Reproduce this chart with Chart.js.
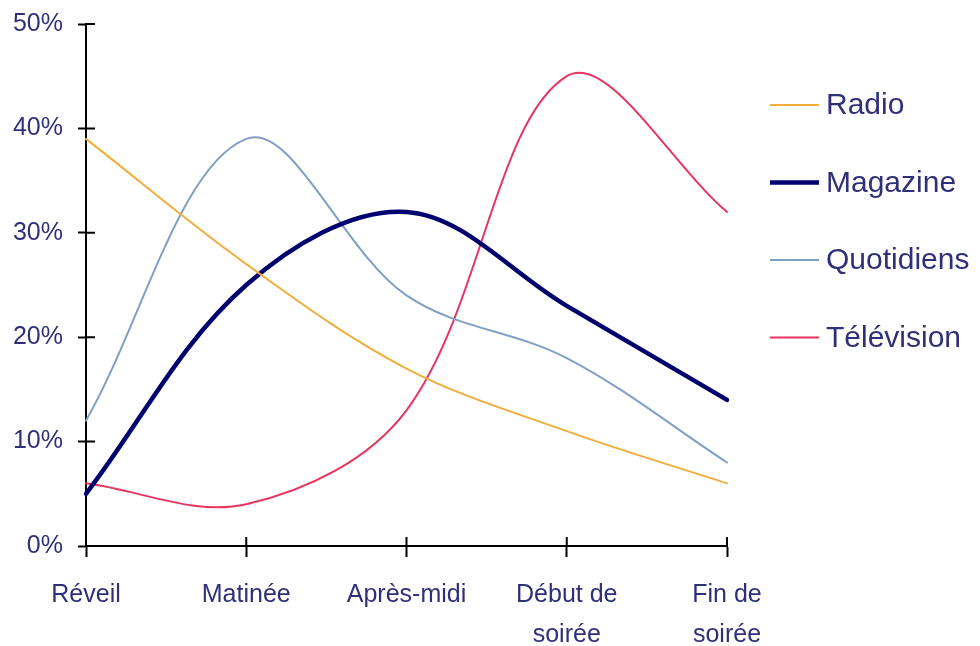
<!DOCTYPE html>
<html>
<head>
<meta charset="utf-8">
<script src="https://cdn.jsdelivr.net/npm/chart.js@4/dist/chart.umd.min.js"></script>
<style>
  body { margin: 0; background: #fff; }
  #wrap { width: 980px; height: 646px; }
</style>
</head>
<body>
<div id="wrap"><canvas id="chart1" width="980" height="646"></canvas></div>
<script>
// data (percent)
const moments = ["Réveil", "Matinée", "Après-midi", ["Début de", "soirée"], ["Fin de", "soirée"]];
const radio = [39, 27, 17, 11, 6];
const magazine = [5, 25, 32, 23, 14];
const quotidiens = [12, 39, 24, 18, 8];
const television = [6, 4, 13, 45, 32];
const yTicks = [0, 10, 20, 30, 40, 50];

const textColor = "#30307a";
const fontFamily = "'Liberation Sans', Arial, sans-serif";

// inner half of the tick marks (Chart.js only draws them outward)
const innerTicks = {
  id: "innerTicks",
  afterDraw(chart) {
    const ctx = chart.ctx;
    const x = chart.scales.x, y = chart.scales.y;
    ctx.save();
    ctx.strokeStyle = "#000";
    ctx.lineWidth = 2;
    ctx.beginPath();
    y.ticks.forEach((t, i) => {
      const py = y.getPixelForTick(i);
      ctx.moveTo(y.right, py);
      ctx.lineTo(y.right + 9, py);
    });
    x.ticks.forEach((t, i) => {
      const px = x.getPixelForTick(i);
      ctx.moveTo(px, x.top);
      ctx.lineTo(px, x.top - 9);
    });
    ctx.stroke();
    ctx.restore();
  }
};

// legend on the right, one row per series
const sideLegend = {
  id: "sideLegend",
  afterDraw(chart) {
    const ctx = chart.ctx;
    ctx.save();
    ctx.font = "30px " + fontFamily;
    ctx.textBaseline = "middle";
    ctx.textAlign = "left";
    chart.data.datasets.forEach((ds, i) => {
      const yy = 105 + i * 77.5;
      ctx.strokeStyle = ds.borderColor;
      ctx.lineWidth = ds.borderWidth;
      ctx.beginPath();
      ctx.moveTo(770, yy);
      ctx.lineTo(819, yy);
      ctx.stroke();
      ctx.fillStyle = textColor;
      ctx.fillText(ds.label, 826, yy + 1);
    });
    ctx.restore();
  }
};

const ctx = document.getElementById("chart1").getContext("2d");
const chart = new Chart(ctx, {
  type: "line",
  data: {
    labels: moments,
    datasets: [
      { label: "Radio", data: radio, borderColor: "#f2ae3c", borderWidth: 2 },
      { label: "Magazine", data: magazine, borderColor: "#00006e", borderWidth: 4.5 },
      { label: "Quotidiens", data: quotidiens, borderColor: "#7f9fc3", borderWidth: 2 },
      { label: "Télévision", data: television, borderColor: "#e8345f", borderWidth: 2 }
    ]
  },
  options: {
    responsive: false,
    animation: false,
    layout: { padding: { top: 24, right: 253, left: 0, bottom: 0 } },
    elements: {
      point: { radius: 0 },
      line: { tension: 0.35, fill: false, borderCapStyle: "round" }
    },
    plugins: { legend: { display: false }, tooltip: { enabled: false } },
    scales: {
      x: {
        offset: false,
        afterFit: s => { s.height = 100; s.paddingLeft = 0; s.paddingRight = 0; },
        border: { color: "#000", width: 2 },
        grid: { drawOnChartArea: false, tickLength: 11, tickColor: "#000", tickWidth: 2 },
        ticks: {
          color: textColor,
          padding: 18,
          maxRotation: 0,
          autoSkip: false,
          font: { family: fontFamily, size: 25, lineHeight: 1.6 }
        }
      },
      y: {
        min: 0,
        max: 50,
        afterFit: s => { s.width = 86; s.paddingTop = 0; s.paddingBottom = 0; },
        afterBuildTicks: s => { s.ticks = yTicks.map(v => ({ value: v })); },
        border: { color: "#000", width: 2 },
        grid: { drawOnChartArea: false, tickLength: 8, tickColor: "#000", tickWidth: 2 },
        ticks: {
          color: textColor,
          padding: 15,
          font: { family: fontFamily, size: 25 },
          callback: v => v + "%"
        }
      }
    }
  },
  plugins: [innerTicks, sideLegend]
});
</script>
</body>
</html>
